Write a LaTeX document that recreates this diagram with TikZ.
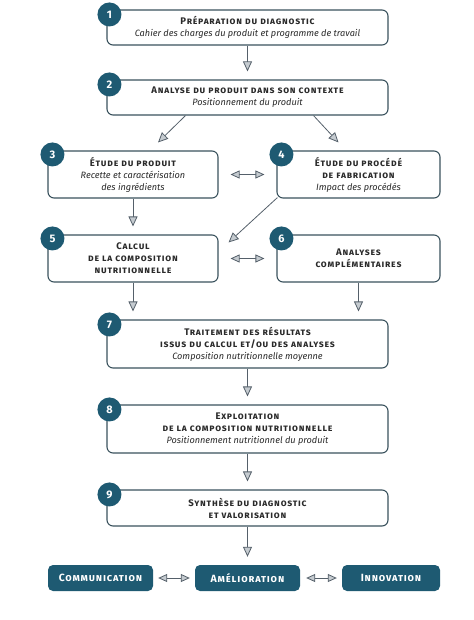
\documentclass[tikz,border=0pt]{standalone}
\usepackage{fontspec}
\setmainfont{Fira Sans}
\newfontfamily\headfont[Letters=SmallCaps,LetterSpace=8]{Fira Sans}
\usetikzlibrary{arrows.meta,calc}
\definecolor{diagblue}{HTML}{1E5A72}
\definecolor{boxline}{HTML}{3A525D}
\definecolor{arrowline}{HTML}{55606A}
\definecolor{arrowfill}{HTML}{C5CBD0}
\definecolor{textgray}{HTML}{2A2A2A}
\def\hd#1{{\headfont\bfseries\fontsize{9.6}{12}\selectfont #1}}
\def\sub#1{\textit{#1}}

\tikzset{
	etape/.style={draw=boxline, line width=1.1bp, rounded corners=6bp, fill=white, align=center, text=textgray, font=\fontsize{9.2}{12}\selectfont, inner sep=0pt},
	badge/.style={circle, fill=diagblue, text=white, font=\bfseries\fontsize{11}{11}\selectfont, minimum size=24bp, inner sep=0pt},
	issue/.style={fill=diagblue, rounded corners=5bp, text=white, font=\headfont\bfseries\fontsize{10.5}{12}\selectfont, minimum height=26bp, inner sep=0pt},
	fleche/.style={draw=arrowline, line width=0.8bp, -{Triangle[length=10bp,width=9bp,fill=arrowfill]}, shorten >=8bp},
	echange/.style={draw=arrowline, line width=0.8bp, {Triangle[length=9bp,width=8bp,fill=arrowfill]}-{Triangle[length=9bp,width=8bp,fill=arrowfill]}}
}

\begin{document}
\begin{tikzpicture}[x=1bp, y=-1bp]
			%%%%% START %%%%%
			\useasboundingbox (0, 0) rectangle (474, 620);
			
			\node[etape, minimum width=281bp, minimum height=35bp] (b1) at (247.5, 27.5) {\hd{Préparation du diagnostic}\\ \sub{Cahier des charges du produit et programme de travail}};
			\node[etape, minimum width=281bp, minimum height=35bp] (b2) at (247.5, 97.5) {\hd{Analyse du produit dans son contexte}\\ \sub{Positionnement du produit}};
			
			\node[etape, minimum width=170bp, minimum height=47bp] (b3) at (133, 174.5) {\hd{Étude du produit}\\ \sub{Recette et caractérisation}\\ \sub{des ingrédients}};
			\node[etape, minimum width=163bp, minimum height=47bp] (b4) at (358.5, 174.5) {\hd{Étude du procédé}\\ \hd{de fabrication}\\ \sub{Impact des procédés}};
			
			\node[etape, minimum width=170bp, minimum height=47bp] (b5) at (133, 258.5) {\hd{Calcul}\\ \hd{de la composition}\\ \hd{nutritionnelle}};
			\node[etape, minimum width=163bp, minimum height=47bp] (b6) at (358.5, 258.5) {\hd{Analyses}\\ \hd{complémentaires}};
			
			\node[etape, minimum width=281bp, minimum height=48bp] (b7) at (247.5, 344) {\hd{Traitement des résultats}\\ \hd{issus du calcul et/ou des analyses}\\ \sub{Composition nutritionnelle moyenne}};
			\node[etape, minimum width=281bp, minimum height=48bp] (b8) at (247.5, 429) {\hd{Exploitation}\\ \hd{de la composition nutritionnelle}\\ \sub{Positionnement nutritionnel du produit}};
			\node[etape, minimum width=281bp, minimum height=36bp] (b9) at (247.5, 508) {\hd{Synthèse du diagnostic}\\ \hd{et valorisation}};
			
			\node[issue, minimum width=105bp] (comm) at (100.5, 578) {Communication};
			\node[issue, minimum width=105bp] (amel) at (247.5, 578) {Amélioration};
			\node[issue, minimum width=98bp] (innov) at (391, 578) {Innovation};
			
			% pastilles
			\node[badge] (n1) at ($(b1.north west)+(3, 5)$) {1};
			\node[badge] (n2) at ($(b2.north west)+(3, 5)$) {2};
			\node[badge] (n3) at ($(b3.north west)+(5, 4)$) {3};
			\node[badge] (n4) at ($(b4.north west)+(5, 4)$) {4};
			\node[badge] (n5) at ($(b5.north west)+(5, 4)$) {5};
			\node[badge] (n6) at ($(b6.north west)+(5, 4)$) {6};
			\node[badge] (n7) at ($(b7.north west)+(3, 5)$) {7};
			\node[badge] (n8) at ($(b8.north west)+(3, 5)$) {8};
			\node[badge] (n9) at ($(b9.north west)+(3, 5)$) {9};
			
			% fleches
			\draw[fleche] (b1.south) -- (b2.north);
			\draw[fleche, shorten >=0bp] ($(b2.south)+(-62, 0)$) -- ($(b3.north)+(25, -8)$);
			\draw[fleche, shorten >=0bp] ($(b2.south)+(66, 0)$) -- ($(b4.north)+(-20, -8)$);
			\draw[echange, shorten <=12bp, shorten >=12bp] (b3.east) -- (b4.west);
			\draw[fleche] (b3.south) -- (b5.north);
			\draw[fleche, shorten >=0bp] ($(b4.south west)+(1, -1)$) -- ($(b5.north east)+(10, 8)$);
			\draw[echange, shorten <=12bp, shorten >=12bp] (b5.east) -- (b6.west);
			\draw[fleche] (b5.south) -- (b5.south |- b7.north);
			\draw[fleche] (b6.south) -- (b6.south |- b7.north);
			\draw[fleche] (b7.south) -- (b8.north);
			\draw[fleche] (b8.south) -- (b9.north);
			\draw[fleche] (b9.south) -- (amel.north);
			\draw[echange, shorten <=5bp, shorten >=5bp] (comm.east) -- (amel.west);
			\draw[echange, shorten <=6bp, shorten >=5bp] (amel.east) -- (innov.west);
			%%%%% END %%%%%
\end{tikzpicture}
\end{document}
